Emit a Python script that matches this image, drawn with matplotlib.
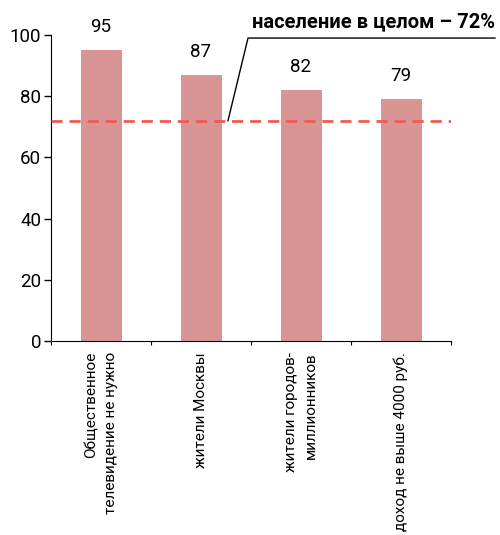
import matplotlib
matplotlib.use("Agg")
import matplotlib.pyplot as plt

categories = ["Общественное\nтелевидение не нужно", "жители Москвы",
              "жители городов-\nмиллионников", "доход не выше 4000 руб."]
values = [95, 87, 82, 79]
overall = 72
overall_label = "население в целом – 72%"
yticks = [0, 20, 40, 60, 80, 100]

plt.rcParams['font.family'] = ['Roboto', 'DejaVu Sans']

fig = plt.figure(figsize=(5.0, 5.35), dpi=100)
ax = fig.add_axes([0.102, 0.3626, 0.8, 0.572])

x = list(range(len(categories)))
ax.bar(x, values, width=0.41, color='#d99594', zorder=2)
for xi, v in zip(x, values):
    ax.text(xi, v + 4.6, str(v), ha='center', va='bottom', fontsize=13.5, color='black')

ax.axhline(overall, color='#ef5b55', linestyle=(0, (4, 2.5)), linewidth=2, zorder=3)

ax.set_xlim(-0.5, len(categories) - 0.5)
ax.set_ylim(0, 100)
ax.set_yticks(yticks)
ax.set_yticklabels([str(t) for t in yticks], fontsize=13.5)
ax.tick_params(axis='y', length=5, width=1, pad=2)

ax.set_xticks(x)
ax.set_xticklabels(categories, rotation=90, ha='center', va='top',
                   multialignment='right', fontsize=11, linespacing=1.5)
ax.tick_params(axis='x', which='major', length=0, pad=8)
ax.set_xticks([i - 0.5 for i in range(len(categories) + 1)], minor=True)
ax.tick_params(axis='x', which='minor', length=3, width=0.8)

for s in ['top', 'right']:
    ax.spines[s].set_visible(False)

# annotation leader line
ax.plot([1.27, 1.47, 3.94], [overall, 99, 99], color='black', linewidth=1,
        clip_on=False, zorder=4)
ax.text(3.94, 101.3, overall_label, ha='right', va='bottom', fontsize=14.5,
        fontweight='bold', color='black', clip_on=False)

fig.savefig("out.png", dpi=100)
